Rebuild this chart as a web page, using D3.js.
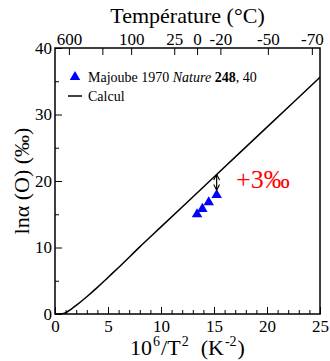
<!DOCTYPE html>
<html>
<head>
<meta charset="utf-8">
<script src="https://cdn.jsdelivr.net/npm/d3@7"></script>
<style>
  body { margin: 0; background: #fff; }
</style>
</head>
<body>
<svg id="chart" width="330" height="361"></svg>
<script>
// Calcul curve
const calcX = [0, 0.5, 0.9, 1.5, 2, 3, 4, 5, 6, 8, 10, 15, 20, 25];
const calcY = [0, 0, 0.1, 0.7, 1.3, 2.6, 4.0, 5.5, 7.0, 10.1, 13.1, 20.6, 28.1, 35.6];
// Majoube 1970 points
const majX = [13.4, 13.9, 14.5, 15.25];
const majY = [15.0, 15.8, 16.8, 17.9];
// top axis, temperatures in °C
const tempTicks = [600, 200, 100, 25, 0, -20, -50, -70];
const tempLabels = ["600", "", "100", "25", "0", "-20", "-50", "-70"];

const FONT = "Liberation Serif, DejaVu Serif, Times New Roman, serif";
const margin = { top: 48, right: 10, bottom: 47, left: 55 };
const W = 330, H = 361;
const svg = d3.select("#chart").attr("font-family", FONT);

const x = d3.scaleLinear().domain([0, 25]).range([margin.left, W - margin.right]);
const y = d3.scaleLinear().domain([0, 40]).range([H - margin.bottom, margin.top]);
const invT2 = t => 1e6 / Math.pow(t + 273.15, 2);

const style = (g) => {
    g.attr("font-family", FONT);
    g.select(".domain").remove();
    g.selectAll(".tick line").attr("stroke", "#000").attr("stroke-width", 1);
    g.selectAll("text").attr("font-size", 17).attr("fill", "#000");
};

// bottom axis
svg.append("g")
    .attr("transform", `translate(0,${y(0)})`)
    .call(d3.axisBottom(x).tickValues(d3.range(0, 26, 5)).tickSizeInner(-7).tickSizeOuter(0).tickPadding(6))
    .call(style);
svg.append("g")
    .attr("transform", `translate(0,${y(0)})`)
    .call(d3.axisBottom(x).tickValues(d3.range(0, 26, 1).filter(d => d % 5)).tickSize(-4).tickFormat(""))
    .call(style);

// left axis
svg.append("g")
    .attr("transform", `translate(${x(0)},0)`)
    .call(d3.axisLeft(y).tickValues(d3.range(0, 41, 10)).tickSizeInner(-7).tickSizeOuter(0).tickPadding(3))
    .call(style);
svg.append("g")
    .attr("transform", `translate(${x(0)},0)`)
    .call(d3.axisLeft(y).tickValues([5, 15, 25, 35]).tickSize(-4).tickFormat(""))
    .call(style);

// top axis (temperature)
svg.append("g")
    .attr("transform", `translate(0,${y(40)})`)
    .call(d3.axisTop(x).tickValues(tempTicks.map(invT2)).tickSizeInner(-7).tickSizeOuter(0).tickPadding(3)
        .tickFormat((d, i) => tempLabels[i]))
    .call(style);

// frame
svg.append("rect")
    .attr("x", x(0)).attr("y", y(40))
    .attr("width", x(25) - x(0)).attr("height", y(0) - y(40))
    .attr("fill", "none").attr("stroke", "#000").attr("stroke-width", 1.5);

svg.append("clipPath").attr("id", "clip")
    .append("rect").attr("x", x(0)).attr("y", y(40))
    .attr("width", x(25) - x(0)).attr("height", y(0) - y(40));

const line = d3.line().x(d => x(d[0])).y(d => y(d[1])).curve(d3.curveMonotoneX);
svg.append("path")
    .datum(d3.zip(calcX, calcY))
    .attr("clip-path", "url(#clip)")
    .attr("d", line)
    .attr("fill", "none").attr("stroke", "#000").attr("stroke-width", 1.5);

// Majoube triangles
const tri = d3.symbol().type(d3.symbolTriangle).size(48);
svg.selectAll(".maj")
    .data(d3.zip(majX, majY))
    .join("path")
    .attr("class", "maj")
    .attr("transform", d => `translate(${x(d[0])},${y(d[1])})`)
    .attr("d", tri)
    .attr("fill", "#0000ff");

// double arrow between curve and last point
const defs = svg.append("defs");
defs.append("marker").attr("id", "ah")
    .attr("viewBox", "0 0 10 10").attr("refX", 9).attr("refY", 5)
    .attr("markerWidth", 6).attr("markerHeight", 6).attr("orient", "auto-start-reverse")
    .append("path").attr("d", "M1,1 L9,5 L1,9").attr("fill", "none").attr("stroke", "#000").attr("stroke-width", 1.5);
svg.append("line")
    .attr("x1", x(15.25)).attr("x2", x(15.25))
    .attr("y1", y(21.0)).attr("y2", y(18.6))
    .attr("stroke", "#000").attr("stroke-width", 1.2)
    .attr("marker-start", "url(#ah)").attr("marker-end", "url(#ah)");

svg.append("text")
    .attr("x", 236).attr("y", 188)
    .attr("font-size", 26).attr("fill", "#ff0000")
    .text("+3‰");

// legend
svg.append("path")
    .attr("transform", "translate(75,77)")
    .attr("d", tri).attr("fill", "#0000ff");
const leg1 = svg.append("text").attr("x", 88).attr("y", 82).attr("font-size", 14);
leg1.append("tspan").text("Majoube 1970 ");
leg1.append("tspan").attr("font-style", "italic").text("Nature");
leg1.append("tspan").text(" ");
leg1.append("tspan").attr("font-weight", "bold").text("248");
leg1.append("tspan").text(", 40");
svg.append("line")
    .attr("x1", 68).attr("x2", 82).attr("y1", 96).attr("y2", 96)
    .attr("stroke", "#000").attr("stroke-width", 1.5);
svg.append("text").attr("x", 88).attr("y", 101).attr("font-size", 14).text("Calcul");

// axis titles
svg.append("text")
    .attr("x", (x(0) + x(25)) / 2).attr("y", 23)
    .attr("text-anchor", "middle").attr("font-size", 22)
    .text("Température (°C)");

// x title built from separate pieces so superscripts sit right
const xParts = [
    { t: "10", sup: false }, { t: "6", sup: true }, { t: "/T", sup: false },
    { t: "2", sup: true }, { t: "\u00a0\u00a0(K", sup: false }, { t: "-2", sup: true }, { t: ")", sup: false }
];
const xg = svg.append("g");
let cx = 0;
xParts.forEach(p => {
    if (p.sup) cx += 1;
    const t = xg.append("text")
        .attr("x", cx).attr("y", p.sup ? -9 : 0)
        .attr("font-size", p.sup ? 14 : 22)
        .text(p.t);
    cx += t.node().getComputedTextLength();
    if (p.sup) cx += 1;
});
xg.attr("transform", `translate(${(x(0) + x(25)) / 2 - cx / 2},355)`);

svg.append("text")
    .attr("transform", `translate(29,${(y(0) + y(40)) / 2}) rotate(-90)`)
    .attr("text-anchor", "middle").attr("font-size", 22)
    .text("lnα (O) (‰)");
</script>
</body>
</html>
